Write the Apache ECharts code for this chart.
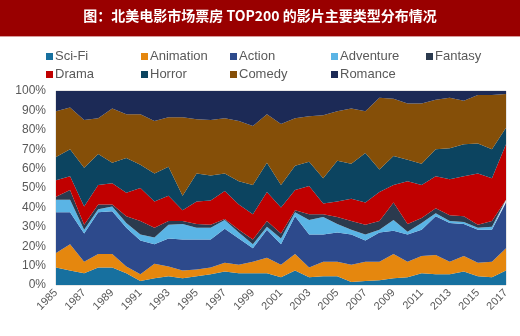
<!DOCTYPE html>
<html>
<head>
<meta charset="utf-8">
<script src="https://cdn.jsdelivr.net/npm/echarts@6/dist/echarts.min.js"></script>
<style>html,body{margin:0;padding:0;background:#fff;}#c{width:520px;height:336px;}</style>
</head>
<body>
<div id="c"></div>
<script>
var years = [];
for (var y = 1985; y <= 2017; y++) years.push(String(y));

var seriesNames = ['Sci-Fi','Animation','Action','Adventure','Fantasy','Drama','Horror','Comedy','Romance'];
var colors = ['#17709f','#e5870e','#2d4a8c','#5ab4e5','#2b3a4e','#c00000','#0c4460','#854f08','#1c2a56'];

var sciFi     = [9,7.5,6,9,9,6,2,3.5,4.5,3.5,4.5,5.5,7,6,6,6,4,7.5,4,4.5,4.5,1.5,2,2.5,3.5,4,6,5.5,5.5,7,4.5,4,7.5];
var animation = [7.5,13.5,6,7,7,3.5,3.5,7.5,5,4,3.5,3.5,4.5,4.5,6,8,6.5,8.5,5,7.5,7.5,9,10,9.5,12.5,8,9,10,6.5,8,7,8,11.5];
var action    = [21,16.5,14.5,21.5,22,20,17.5,10,14.5,16,15.5,14.5,17.5,13.5,7,14.5,10.5,19.5,17,14,15,15.5,11,15,12,14,13.5,20,20,16.5,17,16.5,23.5];
var adventure = [6.5,6.5,2,1.5,2.5,2.5,3,3.5,7,8,6,6,4.5,3,2,1.5,3,2,7.5,9,4.5,2.5,3,1.5,5.5,1.5,3.5,1.5,1,1,1,1.5,1];
var fantasy   = [1.5,5,2.5,2.5,1,3.5,7,5,2,1.5,2,1.5,0.5,1.5,2.5,3,2.5,1,3,1.5,3.5,4.5,5,4.5,9,4,2.5,2.5,3,3,1.5,3,0.5];
var drama     = [8.5,7,9.5,10,11,12,17,13.5,13,5.5,11.5,12.5,14.5,13,13,15,13.5,10.5,14.5,5.5,8,11.5,11.5,15,9,22,17,16.5,18.5,20.5,26.5,22,28.5];
var horror    = [12,14,20,16,10.5,18,12,14.5,15,7.5,14.5,13,9,12,15,15,11.5,12.5,12.5,13,21,18,25.5,11.5,15,11,11,14,16,16.5,15.5,15,8.5];
var comedy    = [23.5,21.5,24.5,18.5,28,22.5,26,27,25.5,40.5,28,28.5,28.5,31,30.5,25,31.5,24.5,23.5,32.5,25.5,28.5,21.5,37,29.5,29,31,25.5,26,22.5,25,28,17.5];
var romance   = [10.5,8.5,15,14,9,12,12,15.5,13.5,13.5,14.5,15,14,15.5,18,12,17,14,13,12.5,10.5,9,10.5,3.5,4,6.5,6.5,4.5,3.5,5,2,2,1.5];

var yTicks = ['0%','10%','20%','30%','40%','50%','60%','70%','80%','90%','100%'];

var dataSets = [sciFi, animation, action, adventure, fantasy, drama, horror, comedy, romance];

var chart = echarts.init(document.getElementById('c'), null, {renderer: 'canvas'});

var legendPos = [
  [46, 50], [141, 50], [230, 50], [331, 50], [426, 50],
  [46, 68], [141, 68], [230, 68], [331, 68]
];
var legends = seriesNames.map(function (n, i) {
  return {
    data: [n],
    left: legendPos[i][0],
    top: legendPos[i][1],
    icon: 'rect',
    itemWidth: 7,
    itemHeight: 7,
    itemGap: 0,
    padding: 0,
    textStyle: {color: '#595959', fontSize: 13, fontFamily: 'Liberation Sans, Arial, sans-serif', padding: [0,0,0,-3]},
    selectedMode: false
  };
});

var series = seriesNames.map(function (n, i) {
  return {
    name: n,
    type: 'line',
    stack: 'total',
    areaStyle: {color: colors[i], opacity: 1},
    lineStyle: {width: 0},
    symbol: 'none',
    itemStyle: {color: colors[i]},
    data: dataSets[i]
  };
});

chart.setOption({
  animation: false,
  backgroundColor: '#ffffff',
  graphic: [
    {type: 'rect', shape: {x: 0, y: 0, width: 520, height: 36}, style: {fill: '#990000'}, z: 10},
    {type: 'rect', shape: {x: 0, y: 36, width: 520, height: 1}, style: {fill: '#d89a9a'}, z: 10},
    {type: 'text', left: 'center', top: 9, z: 11,
     style: {text: '图：北美电影市场票房 TOP200 的影片主要类型分布情况', fill: '#ffffff',
             font: 'bold 14px "Noto Sans CJK SC", sans-serif'}}
  ],
  legend: legends,
  grid: {left: 56, right: 14, top: 91, bottom: 51, show: true, borderColor: '#cfcfcf', borderWidth: 1},
  xAxis: {
    type: 'category',
    data: years,
    boundaryGap: false,
    axisLine: {show: false},
    axisTick: {show: false},
    axisLabel: {
      interval: 1,
      rotate: 45,
      color: '#595959',
      fontSize: 11,
      fontFamily: 'Liberation Sans, Arial, sans-serif',
      margin: 6
    }
  },
  yAxis: {
    type: 'value',
    min: 0,
    max: 100,
    interval: 10,
    splitLine: {show: false},
    axisLine: {show: false},
    axisTick: {show: false},
    axisLabel: {
      color: '#595959',
      fontSize: 12,
      fontFamily: 'Liberation Sans, Arial, sans-serif',
      margin: 10,
      formatter: function (v) { return yTicks[Math.round(v / 10)]; }
    }
  },
  series: series
});
</script>
</body>
</html>
